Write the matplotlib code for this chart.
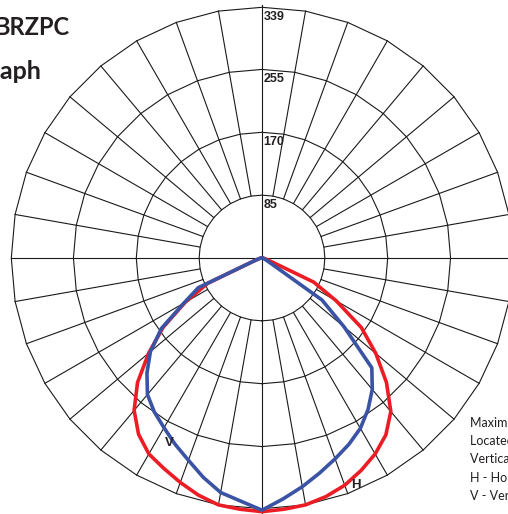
import numpy as np
import matplotlib.pyplot as plt

# vertical angle from nadir (deg) and candela
angles = np.arange(0, 95, 5)
h_right = [343, 341, 339, 334, 327, 317, 306, 292, 271, 238, 201, 164, 116, 77, 11, 5, 3, 1, 0]
h_left = [343, 341, 339, 332, 323, 314, 306, 291, 269, 238, 200, 163, 120, 81, 11, 5, 3, 1, 0]
v_right = [341, 327, 314, 301, 289, 278, 266, 250, 232, 210, 145, 99, 11, 5, 3, 2, 1, 0, 0]
v_left = [341, 330, 322, 307, 291, 278, 265, 254, 241, 220, 197, 166, 122, 95, 11, 5, 3, 1, 0]

ring_values = [85, 170, 255, 339]
r_max = 339

info_lines = ["Maximum Candela = 339 Located At Horizontal",
              "Located At Horizontal Angle = 0,",
              "Vertical Angle = 0",
              "H - Horizontal Plane",
              "V - Vertical Plane"]

RED = '#ec1c24'
BLUE = '#3a53a4'
INK = '#231f20'

W, H = 508, 514
cx, cy, rad = 262, 258, 250.7

fig = plt.figure(figsize=(W / 100, H / 100), dpi=100)
ax = fig.add_axes([(cx - rad) / W, 1 - (cy + rad) / H, 2 * rad / W, 2 * rad / H],
                  projection='polar')
ax.set_theta_zero_location('S')
ax.set_ylim(0, r_max)
ax.grid(False)
ax.set_xticks([])
ax.set_yticks([])
ax.spines['polar'].set_visible(False)


def full_curve(left, right):
    th = np.radians(np.concatenate([-angles[::-1], angles[1:]]))
    r = np.concatenate([np.array(left)[::-1], np.array(right)[1:]])
    return th, r


# grid: polygon rings, spokes every 10 deg
grid_kw = dict(color='#1a1a1a', lw=0.8, clip_on=False, zorder=1)
th_ring = np.radians(np.arange(0, 361, 10))
for rv in ring_values:
    ax.plot(th_ring, np.full(len(th_ring), rv), **grid_kw)
for a in range(0, 360, 10):
    if a % 90 == 0:
        continue
    ax.plot([np.radians(a)] * 2, [ring_values[0], r_max], **grid_kw)
ax.plot([0, 0, np.pi], [345, 0, 342], **grid_kw)
ax.plot([np.pi / 2, 0, -np.pi / 2], [r_max, 0, r_max], **grid_kw)

for rv in ring_values:
    ax.annotate(str(rv), xy=(np.pi, rv), xytext=(1.0, -2.6), textcoords='offset points',
                ha='left', va='top', fontsize=9, fontweight='bold',
                family='Liberation Sans', color=INK)

th, r = full_curve(h_left, h_right)
ax.plot(th, r, color=RED, lw=2.6, clip_on=False, zorder=3)
th, r = full_curve(v_left, v_right)
ax.plot(th, r, color=BLUE, lw=2.6, clip_on=False, zorder=4)

ax.text(np.radians(-26.6), 280, 'V', ha='center', va='center', fontsize=9.5,
        fontweight='bold', family='Liberation Sans', color=INK, zorder=5)
ax.text(np.radians(22.5), 332, 'H', ha='center', va='center', fontsize=9.5,
        fontweight='bold', family='Liberation Sans', color=INK, zorder=5)

# titles (cut off at the left edge like the original)
fig.text(-6 / W, 1 - 35 / H, 'BRZPC', ha='left', va='baseline', fontsize=17,
         fontweight='bold', family='Lato', color=INK)
fig.text(41 / W, 1 - 79 / H, 'Polar Graph', ha='right', va='baseline', fontsize=18,
         fontweight='bold', family='Lato', color=INK)

for i, line in enumerate(info_lines):
    fig.text(470 / W, 1 - (423 + 18.2 * i) / H, line, ha='left', va='center',
             fontsize=9, family='Lato', color=INK)

fig.savefig('out.png', dpi=100)
